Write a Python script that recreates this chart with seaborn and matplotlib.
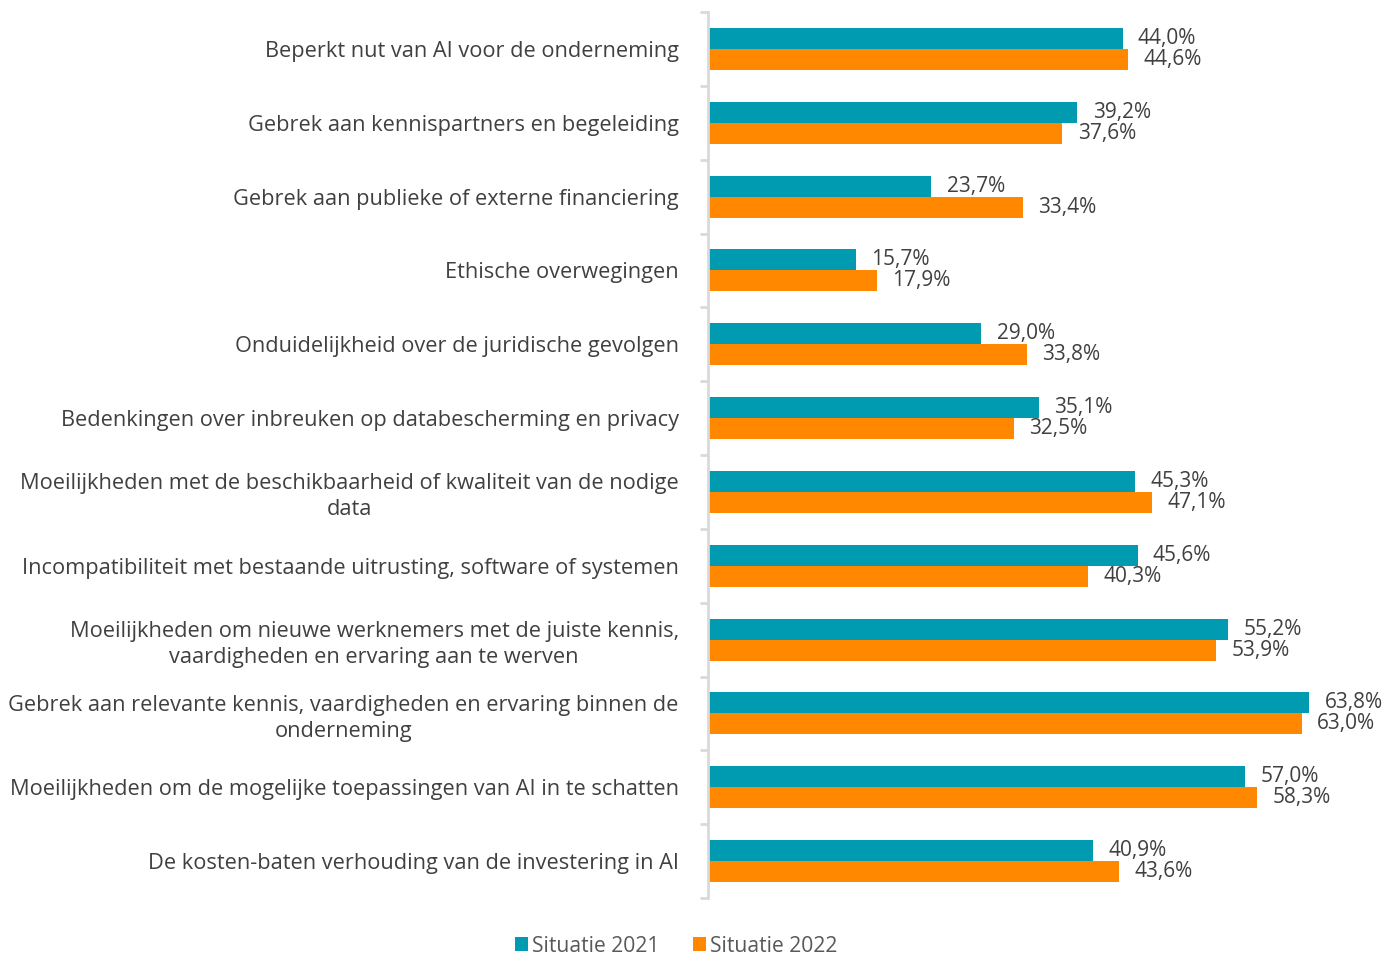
import matplotlib
matplotlib.use("Agg")
import matplotlib.pyplot as plt
import seaborn as sns
import pandas as pd
from matplotlib.patches import Patch

categories = [
    "Beperkt nut van AI voor de onderneming",
    "Gebrek aan kennispartners en begeleiding",
    "Gebrek aan publieke of externe financiering",
    "Ethische overwegingen",
    "Onduidelijkheid over de juridische gevolgen",
    "Bedenkingen over inbreuken op databescherming en privacy",
    "Moeilijkheden met de beschikbaarheid of kwaliteit van de nodige\ndata",
    "Incompatibiliteit met bestaande uitrusting, software of systemen",
    "Moeilijkheden om nieuwe werknemers met de juiste kennis,\nvaardigheden en ervaring aan te werven",
    "Gebrek aan relevante kennis, vaardigheden en ervaring binnen de\nonderneming",
    "Moeilijkheden om de mogelijke toepassingen van AI in te schatten",
    "De kosten-baten verhouding van de investering in AI",
]
situatie_2021 = [44.0, 39.2, 23.7, 15.7, 29.0, 35.1, 45.3, 45.6, 55.2, 63.8, 57.0, 40.9]
situatie_2022 = [44.6, 37.6, 33.4, 17.9, 33.8, 32.5, 47.1, 40.3, 53.9, 63.0, 58.3, 43.6]
series = ["Situatie 2021", "Situatie 2022"]
colors = ["#009BB0", "#FF8800"]

df = pd.concat([
    pd.DataFrame({"cat": categories, "val": situatie_2021, "serie": series[0]}),
    pd.DataFrame({"cat": categories, "val": situatie_2022, "serie": series[1]}),
])

sns.set_style("white")
plt.rcParams["font.family"] = ["Open Sans", "DejaVu Sans"]
text_col = "#404040"

fig = plt.figure(figsize=(13.94, 9.58), dpi=100)
ax = fig.add_axes([708 / 1394, (958 - 898) / 958, (1394 - 708) / 1394, (898 - 12) / 958])

sns.barplot(data=df, y="cat", x="val", hue="serie", palette=colors, orient="h",
            width=0.57, ax=ax, legend=False, saturation=1, linewidth=0)

for cont in ax.containers:
    ax.bar_label(cont, labels=[f"{v:.1f}%".replace(".", ",") for v in cont.datavalues],
                 padding=11, fontsize=15, color=text_col)

ax.set_xlim(0, 72.8)
ax.set_ylim(len(categories) - 0.5, -0.5)
ax.set_xlabel("")
ax.set_ylabel("")
ax.set_xticks([])
for s in ["top", "right", "bottom"]:
    ax.spines[s].set_visible(False)
ax.spines["left"].set_color("#D9D9D9")
ax.spines["left"].set_linewidth(2)

ax.set_yticks(range(len(categories)))
ax.set_yticklabels(categories, fontsize=15.7, color=text_col, multialignment="center",
                   linespacing=1.3)
ax.tick_params(axis="y", which="major", left=False, length=0, pad=21)
ax.set_yticks([i - 0.5 for i in range(len(categories) + 1)], minor=True)
ax.tick_params(axis="y", which="minor", left=True, length=6, width=2, color="#D9D9D9")

handles = [Patch(facecolor=c, edgecolor="none") for c in colors]
fig.legend(handles, series, loc="center", bbox_to_anchor=(0.485, 1 - 946 / 958),
           ncol=2, frameon=False, fontsize=15.2, handlelength=0.6, handleheight=0.6,
           handletextpad=0.2, columnspacing=1.6, labelcolor="#595959")

fig.savefig("out.png", dpi=100)
